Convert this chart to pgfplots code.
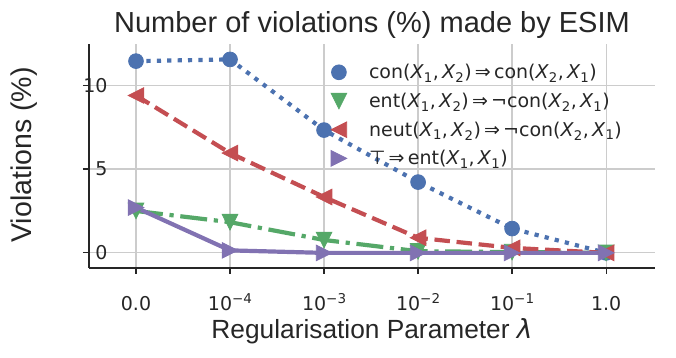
\documentclass[border=0pt]{standalone}
\usepackage{pgfplots}
\pgfplotsset{compat=1.18}
\usepackage{fontspec}
\setmainfont{Liberation Sans}
\newfontfamily\dejavu{DejaVu Sans}
\usetikzlibrary{plotmarks}
\definecolor{sbblue}{HTML}{4C72B0}
\definecolor{sbgreen}{HTML}{55A868}
\definecolor{sbred}{HTML}{C44E52}
\definecolor{sbpurple}{HTML}{8172B2}
\definecolor{spine}{HTML}{262626}
\definecolor{gridc}{HTML}{CCCCCC}
\newcommand\X[1]{\textit{X}\textsubscript{#1}}
\newcommand\sups[1]{10\raisebox{0.42em}{\fontsize{13.5}{15}\selectfont #1}}
\pgfdeclareplotmark{mpltri}{%
  \pgfpathmoveto{\pgfqpoint{0pt}{\pgfplotmarksize}}%
  \pgfpathlineto{\pgfqpoint{-\pgfplotmarksize}{-\pgfplotmarksize}}%
  \pgfpathlineto{\pgfqpoint{\pgfplotmarksize}{-\pgfplotmarksize}}%
  \pgfpathclose\pgfusepathqfillstroke}
\begin{document}
\begin{tikzpicture}
\begin{axis}[
  at={(0pt,0pt)}, anchor=south west,
  scale only axis, width=566pt, height=224pt,
  xmin=-0.5, xmax=5.52, ymin=-0.9, ymax=12.45,
  axis lines*=left,
  axis line style={spine, line width=1.6pt},
  xtick={0,1,2,3,4,5},
  xticklabels={0.0, \sups{−4}, \sups{−3}, \sups{−2}, \sups{−1}, 1.0},
  ytick={0,5,10},
  /pgf/number format/assume math mode=true,
  tick label style={font=\dejavu\fontsize{19}{22}\selectfont, text=spine},
  tick align=outside,
  major tick length=6pt,
  every tick/.style={spine, line width=1.2pt},
  xticklabel style={anchor=base, yshift=-37pt},
  yticklabel style={anchor=east, xshift=28pt},
  grid=major,
  grid style={gridc, line width=1.2pt},
  clip=false,
  legend style={draw=none, fill=none, at={(0.411,0.928)}, anchor=north west,
    font=\dejavu\fontsize{19}{23}\selectfont, text=spine,
    row sep=8.8pt, cells={anchor=west}},
  legend image code/.code={\path[#1] plot coordinates {(12pt,0pt)}; \path (0pt,0pt) (38pt,0pt);},
]
\addplot[sbblue, line width=4.2pt, dash pattern=on 4.2pt off 6.2pt,
  mark=*, mark size=7.4pt, mark options={solid, fill=sbblue, line width=0.8pt}]
  coordinates {(0,11.43) (1,11.53) (2,7.32) (3,4.22) (4,1.45) (5,0.0)};
\addlegendentry{con(\X1,\,\X2)\,⇒\,con(\X2,\,\X1)}
\addplot[sbgreen, line width=4.2pt, dash pattern=on 27pt off 6.7pt on 4.2pt off 6.7pt,
  mark=mpltri, mark size=7.8pt, mark options={solid, fill=sbgreen, line width=0.8pt, rotate=180}]
  coordinates {(0,2.5) (1,1.83) (2,0.77) (3,0.1) (4,0.05) (5,0.0)};
\addlegendentry{ent(\X1,\,\X2)\,⇒\,¬con(\X2,\,\X1)}
\addplot[sbred, line width=4.2pt, dash pattern=on 15.5pt off 6.7pt,
  mark=mpltri, mark size=7.8pt, mark options={solid, fill=sbred, line width=0.8pt, rotate=90}]
  coordinates {(0,9.38) (1,5.95) (2,3.33) (3,0.9) (4,0.3) (5,0.0)};
\addlegendentry{neut(\X1,\,\X2)\,⇒\,¬con(\X2,\,\X1)}
\addplot[sbpurple, line width=4.2pt, solid,
  mark=mpltri, mark size=7.8pt, mark options={solid, fill=sbpurple, line width=0.8pt, rotate=-90}]
  coordinates {(0,2.7) (1,0.15) (2,0.0) (3,0.0) (4,0.0) (5,0.0)};
\addlegendentry{⊤\,⇒\,ent(\X1,\,\X1)}
\end{axis}
\node[anchor=base, text=spine, font=\fontsize{29}{34}\selectfont] at (283pt,235pt) {Number of violations (\%) made by ESIM};
\node[anchor=base, text=spine, font=\fontsize{26.3}{31}\selectfont] at (283pt,-70pt) {Regularisation Parameter \textit{\dejavu λ}};
\node[anchor=base, rotate=90, text=spine, font=\fontsize{28.5}{34}\selectfont] at (-57pt,113pt) {Violations (\%)};
\pgfresetboundingbox
\useasboundingbox (-89pt,-90pt) rectangle (587pt,268pt);
\end{tikzpicture}
\end{document}
